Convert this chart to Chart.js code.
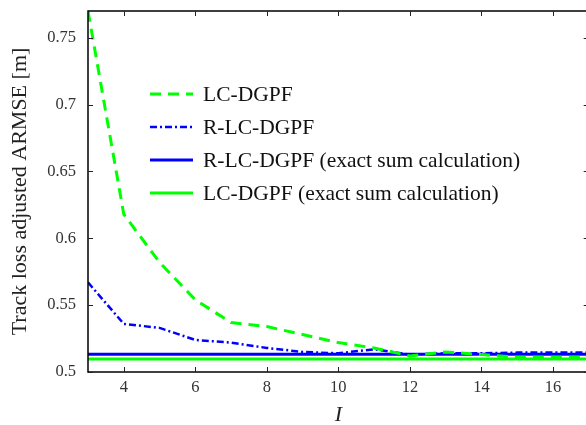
<!DOCTYPE html>
<html>
<head>
<meta charset="utf-8">
<script src="https://cdn.jsdelivr.net/npm/chart.js@4/dist/chart.umd.min.js"></script>
<style>
  html, body { margin: 0; padding: 0; background: #fff; overflow: hidden; }
  #wrap { width: 592px; height: 425px; }
</style>
</head>
<body>
<div id="wrap"><canvas id="c" width="592" height="425"></canvas></div>
<script>
// ---- data ----
const iValues = [3, 4, 5, 6, 7, 8, 9, 10, 11, 12, 13, 14, 15, 16, 17];
const lcDgpf  = [0.770, 0.618, 0.582, 0.554, 0.537, 0.534, 0.528, 0.522, 0.518, 0.512, 0.515, 0.513, 0.511, 0.511, 0.511];
const rLcDgpf = [0.567, 0.536, 0.533, 0.524, 0.522, 0.518, 0.515, 0.514, 0.517, 0.513, 0.514, 0.514, 0.5145, 0.5145, 0.5145];
const rLcExact = [0.5133];
const lcExact  = [0.5097];
const xTicks = [4, 6, 8, 10, 12, 14, 16];
const yTicks = [0.5, 0.55, 0.6, 0.65, 0.7, 0.75];
const seriesLabels = ['LC-DGPF', 'R-LC-DGPF', 'R-LC-DGPF (exact sum calculation)', 'LC-DGPF (exact sum calculation)'];
const xRange = [3, 17];
const yRange = [0.5, 0.77];

const toPts = arr => iValues.map((x, k) => ({x: x, y: arr[k]}));
const flat = v => xRange.map(x => ({x: x, y: v}));

const GREEN = '#00ff00', BLUE = '#0000ff';

const frameAndTicks = {
  id: 'frameAndTicks',
  afterDraw(chart) {
    const ctx = chart.ctx, a = chart.chartArea;
    const xs = chart.scales.x, ys = chart.scales.y;
    ctx.save();
    ctx.strokeStyle = '#000';
    ctx.lineWidth = 1.5;
    ctx.setLineDash([]);
    ctx.strokeRect(a.left, a.top, a.right - a.left, a.bottom - a.top);
    ctx.lineWidth = 1;
    ctx.strokeStyle = '#222';
    const L = 5;
    xTicks.forEach(v => {
      const px = Math.round(xs.getPixelForValue(v)) + 0.5;
      ctx.beginPath();
      ctx.moveTo(px, a.bottom); ctx.lineTo(px, a.bottom - L);
      ctx.moveTo(px, a.top); ctx.lineTo(px, a.top + L);
      ctx.stroke();
    });
    yTicks.forEach(v => {
      const py = Math.round(ys.getPixelForValue(v)) + 0.5;
      ctx.beginPath();
      ctx.moveTo(a.left, py); ctx.lineTo(a.left + L, py);
      ctx.moveTo(a.right, py); ctx.lineTo(a.right - L, py);
      ctx.stroke();
    });
    ctx.restore();
  }
};

const customLegend = {
  id: 'customLegend',
  afterDraw(chart) {
    const ctx = chart.ctx, a = chart.chartArea;
    const order = [0, 1, 2, 3];
    ctx.save();
    order.forEach((di, row) => {
      const ds = chart.data.datasets[di];
      const y = a.top + 83 + row * 33;
      const x0 = a.left + 62, x1 = a.left + 105;
      ctx.strokeStyle = ds.borderColor;
      ctx.lineWidth = ds.borderWidth;
      ctx.setLineDash(ds.borderDash || []);
      ctx.beginPath();
      ctx.moveTo(x0, y); ctx.lineTo(x1, y);
      ctx.stroke();
      ctx.setLineDash([]);
      ctx.fillStyle = '#111';
      ctx.font = '21.5px "Liberation Serif", serif';
      ctx.textBaseline = 'middle';
      ctx.textAlign = 'left';
      ctx.fillText(ds.label, a.left + 115, y + 1);
    });
    ctx.restore();
  }
};

new Chart(document.getElementById('c'), {
  type: 'line',
  data: {
    datasets: [
      { label: seriesLabels[0], data: toPts(lcDgpf), borderColor: GREEN, borderWidth: 3, borderDash: [11, 7], pointRadius: 0, tension: 0, fill: false, order: 1 },
      { label: seriesLabels[1], data: toPts(rLcDgpf), borderColor: BLUE, borderWidth: 2.5, borderDash: [7, 3, 2, 3], pointRadius: 0, tension: 0, fill: false, order: 2 },
      { label: seriesLabels[2], data: flat(rLcExact[0]), borderColor: BLUE, borderWidth: 3, pointRadius: 0, tension: 0, fill: false, order: 3 },
      { label: seriesLabels[3], data: flat(lcExact[0]), borderColor: GREEN, borderWidth: 3, pointRadius: 0, tension: 0, fill: false, order: 4 }
    ]
  },
  options: {
    responsive: false,
    animation: false,
    devicePixelRatio: 1,
    layout: { padding: { left: 0, top: 11, right: 3.3, bottom: 0 } },
    plugins: { legend: { display: false }, tooltip: { enabled: false } },
    scales: {
      x: {
        type: 'linear', min: xRange[0], max: xRange[1],
        grid: { display: false, drawTicks: false },
        border: { display: false },
        afterBuildTicks: s => { s.ticks = xTicks.map(v => ({ value: v })); },
        afterFit: s => { s.height = 53; s.paddingLeft = 0; s.paddingRight = 0; },
        ticks: { color: '#333', padding: 6, font: { family: '"Liberation Serif", serif', size: 16.5 }, maxRotation: 0, callback: v => String(v) },
        title: { display: true, text: 'I', color: '#222', padding: { top: 0, bottom: 0 }, font: { family: '"Liberation Serif", serif', size: 22, style: 'italic', lineHeight: 0.85 } }
      },
      y: {
        type: 'linear', min: yRange[0], max: yRange[1],
        grid: { display: false, drawTicks: false },
        border: { display: false },
        afterBuildTicks: s => { s.ticks = yTicks.map(v => ({ value: v })); },
        afterFit: s => { s.width = 88; s.paddingTop = 0; s.paddingBottom = 0; },
        ticks: { color: '#333', padding: 12, font: { family: '"Liberation Serif", serif', size: 16.5 }, callback: v => String(+v.toFixed(2)) },
        title: { display: true, text: 'Track loss adjusted ARMSE [m]', color: '#222', padding: { top: 7, bottom: 0 }, font: { family: '"Liberation Serif", serif', size: 22 } }
      }
    }
  },
  plugins: [frameAndTicks, customLegend]
});
</script>
</body>
</html>
